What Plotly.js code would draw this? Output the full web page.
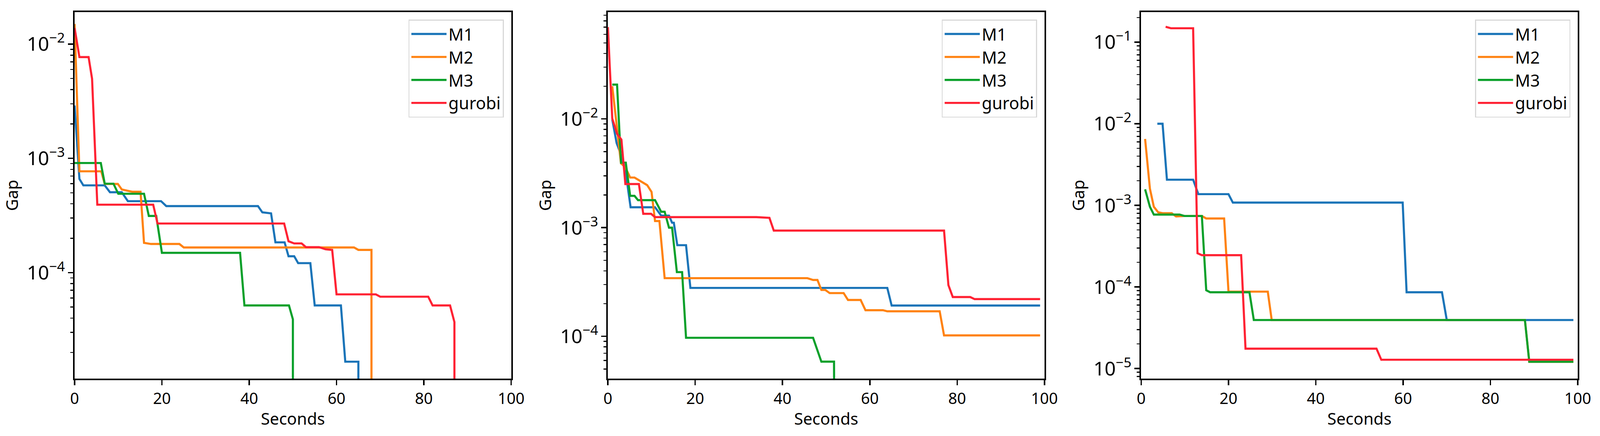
<!DOCTYPE html>
<html>
<head>
<meta charset="utf-8">
<script src="https://cdn.plot.ly/plotly-3.0.1.min.js"></script>
<style>html,body{margin:0;padding:0;background:#fff;overflow:hidden;}#chart{width:100vw;height:100vh;}</style>
</head>
<body>
<div id="chart"></div>
<script>
// ---------- data ----------
var seriesNames = ["M1", "M2", "M3", "gurobi"];
var xTicks = [0, 20, 40, 60, 80, 100];
var BELOW = 1e-7; // value under the visible range (line drops off the axis)

// Panel 1
var p1_M1_x = [0, 1.1, 2, 6.9, 8.1, 10.8, 12.2, 19.8, 21, 42, 43, 45, 46, 48.1, 49, 50.3, 51.2, 54, 55, 61, 62, 65, 65];
var p1_M1_y = [2.9e-3, 6.6e-4, 5.8e-4, 5.8e-4, 5.05e-4, 5.05e-4, 4.22e-4, 4.22e-4, 3.82e-4, 3.82e-4, 3.37e-4, 3.3e-4, 1.84e-4, 1.84e-4, 1.39e-4, 1.39e-4, 1.21e-4, 1.21e-4, 5.16e-5, 5.16e-5, 1.66e-5, 1.66e-5, BELOW];
var p1_M2_x = [0, 1.1, 6.1, 6.9, 9.9, 10.8, 12.2, 13.2, 15.1, 15.9, 17.5, 24, 25, 64, 65, 68, 68];
var p1_M2_y = [0.015, 7.7e-4, 7.7e-4, 5.97e-4, 5.97e-4, 5.34e-4, 5.2e-4, 5.1e-4, 5.1e-4, 1.82e-4, 1.78e-4, 1.78e-4, 1.66e-4, 1.66e-4, 1.58e-4, 1.58e-4, BELOW];
var p1_M3_x = [0, 6, 6.9, 8.9, 10, 15.9, 17, 18.7, 20, 37.9, 38.9, 49.1, 50, 50];
var p1_M3_y = [9.1e-4, 9.1e-4, 6.0e-4, 6.0e-4, 4.9e-4, 4.9e-4, 3.13e-4, 3.13e-4, 1.49e-4, 1.49e-4, 5.16e-5, 5.16e-5, 3.9e-5, BELOW];
var p1_G_x = [0, 1.1, 3.2, 4, 5.2, 18, 19, 48, 49, 50.3, 52, 53, 56, 57.5, 59, 60, 69, 70, 81, 82, 86, 87, 87];
var p1_G_y = [0.0138, 7.7e-3, 7.7e-3, 4.97e-3, 3.93e-4, 3.93e-4, 2.69e-4, 2.69e-4, 1.88e-4, 1.8e-4, 1.8e-4, 1.67e-4, 1.67e-4, 1.6e-4, 1.58e-4, 6.45e-5, 6.45e-5, 6.15e-5, 6.15e-5, 5.16e-5, 5.16e-5, 3.69e-5, BELOW];

// Panel 2
var p2_M1_x = [1, 2, 3, 4, 5.2, 10.8, 12.2, 14, 14.7, 15.1, 15.9, 17.9, 18.9, 64, 65, 99];
var p2_M1_y = [0.0099, 6e-3, 4.7e-3, 3.4e-3, 1.54e-3, 1.54e-3, 1.29e-3, 1.29e-3, 1.11e-3, 1.11e-3, 6.9e-4, 6.9e-4, 2.79e-4, 2.79e-4, 1.92e-4, 1.92e-4];
var p2_M2_x = [1, 2, 3, 4, 5.1, 6.1, 8.1, 9, 10, 10.8, 11.8, 13, 45.7, 47, 48, 48.9, 49.8, 50.8, 54, 55, 57.9, 59, 63, 64, 76, 77, 99];
var p2_M2_y = [0.02, 8.6e-3, 3.9e-3, 3.6e-3, 2.89e-3, 2.89e-3, 2.6e-3, 2.46e-3, 2.13e-3, 1.15e-3, 1.15e-3, 3.43e-4, 3.43e-4, 3.3e-4, 3.3e-4, 2.67e-4, 2.67e-4, 2.5e-4, 2.5e-4, 2.16e-4, 2.16e-4, 1.74e-4, 1.74e-4, 1.7e-4, 1.7e-4, 1.02e-4, 1.02e-4];
var p2_M3_x = [1, 2.1, 3, 4.1, 5.1, 6.1, 6.9, 10.8, 12.2, 13, 14, 14.7, 15.8, 17, 17.9, 47, 48.9, 51.8, 52];
var p2_M3_y = [0.0207, 0.0207, 3.96e-3, 3.96e-3, 1.96e-3, 1.96e-3, 1.79e-3, 1.79e-3, 1.4e-3, 1.4e-3, 1.0e-3, 1.0e-3, 3.9e-4, 3.9e-4, 9.7e-5, 9.7e-5, 5.85e-5, 5.85e-5, BELOW];
var p2_G_x = [0, 1, 2.1, 3.1, 4, 7.1, 8.1, 9.9, 10.8, 34, 37, 38, 77, 78, 79, 83, 84, 99];
var p2_G_y = [0.07, 0.0101, 7.3e-3, 6.45e-3, 2.52e-3, 2.52e-3, 1.34e-3, 1.34e-3, 1.25e-3, 1.25e-3, 1.23e-3, 9.4e-4, 9.4e-4, 2.96e-4, 2.3e-4, 2.3e-4, 2.2e-4, 2.2e-4];

// Panel 3
var p3_M1_x = [3.7, 4.9, 5.9, 11.9, 13.1, 20, 21, 59.9, 60.8, 68.9, 70, 99];
var p3_M1_y = [0.01, 0.01, 2.06e-3, 2.06e-3, 1.37e-3, 1.37e-3, 1.08e-3, 1.08e-3, 8.6e-5, 8.6e-5, 3.93e-5, 3.93e-5];
var p3_M2_x = [0.9, 2, 2.9, 3.9, 4.9, 7, 8, 9.9, 13.9, 14.9, 19, 20, 29, 29.9, 87.9, 88.9, 99];
var p3_M2_y = [6.5e-3, 1.6e-3, 9.6e-4, 8.2e-4, 8.0e-4, 8.0e-4, 7.3e-4, 7.4e-4, 7.4e-4, 6.9e-4, 6.9e-4, 8.75e-5, 8.75e-5, 3.93e-5, 3.93e-5, 1.21e-5, 1.21e-5];
var p3_M3_x = [0.9, 2, 2.9, 8.8, 9.9, 13.9, 14.9, 15.8, 24.8, 25.8, 87.9, 88.9, 99];
var p3_M3_y = [1.57e-3, 9.6e-4, 7.7e-4, 7.7e-4, 7.4e-4, 7.4e-4, 9.1e-5, 8.6e-5, 8.6e-5, 3.93e-5, 3.93e-5, 1.21e-5, 1.21e-5];
var p3_G_x = [5.6, 6.8, 11.9, 12.9, 13.9, 22.9, 23.9, 53.9, 55, 99];
var p3_G_y = [0.154, 0.148, 0.148, 2.59e-4, 2.45e-4, 2.45e-4, 1.75e-5, 1.75e-5, 1.28e-5, 1.28e-5];

// ---------- styling ----------
var colors = ["#1a74b8", "#ff8210", "#0aa02a", "#ff2233"];
var FONT = "Noto Sans, Open Sans, DejaVu Sans, sans-serif";

var panels = [
  {xs: [p1_M1_x, p1_M2_x, p1_M3_x, p1_G_x], ys: [p1_M1_y, p1_M2_y, p1_M3_y, p1_G_y], yrange: [-4.928, -1.72]},
  {xs: [p2_M1_x, p2_M2_x, p2_M3_x, p2_G_x], ys: [p2_M1_y, p2_M2_y, p2_M3_y, p2_G_y], yrange: [-4.389, -1.017]},
  {xs: [p3_M1_x, p3_M2_x, p3_M3_x, p3_G_x], ys: [p3_M1_y, p3_M2_y, p3_M3_y, p3_G_y], yrange: [-5.124, -0.632]}
];

// layout measured on the 4317 x 1117 reference, scaled to the actual window
var REF_W = 4317, REF_H = 1117;
var W = window.innerWidth || REF_W, H = window.innerHeight || REF_H;
var sx = W / REF_W, sy = H / REF_H;
var refL = 201, refR = 60, refT = 31, refB = 147;
var refPlotW = REF_W - refL - refR;       // 4056
var refAxW = 1178, refAxStep = 1439;
var refLegendRight = [1359, 2798, 4237];

var traces = [];
var layout = {
  width: W, height: H,
  margin: {l: refL * sx, r: refR * sx, t: refT * sy, b: refB * sy, pad: 0},
  paper_bgcolor: "#ffffff",
  plot_bgcolor: "#ffffff",
  font: {family: FONT, color: "#000000", size: 40},
  showlegend: true
};

panels.forEach(function (p, i) {
  var n = i + 1;
  var xa = "x" + (n === 1 ? "" : n), ya = "y" + (n === 1 ? "" : n);
  var legName = n === 1 ? "legend" : "legend" + n;
  for (var s = 0; s < 4; s++) {
    traces.push({
      type: "scatter", mode: "lines",
      x: p.xs[s], y: p.ys[s],
      name: seriesNames[s],
      xaxis: xa, yaxis: ya,
      legend: legName,
      line: {color: colors[s], width: 5.4},
      cliponaxis: true,
      hoverinfo: "x+y+name"
    });
  }
  var x0 = (i * refAxStep) / refPlotW, x1 = (i * refAxStep + refAxW) / refPlotW;
  var axKeyX = "xaxis" + (n === 1 ? "" : n), axKeyY = "yaxis" + (n === 1 ? "" : n);
  layout[axKeyX] = {
    domain: [x0, Math.min(1, x1)],
    anchor: ya,
    range: [0, 100],
    tickvals: xTicks,
    ticktext: xTicks.map(String),
    ticks: "outside", ticklen: 13, tickwidth: 3.5, tickcolor: "#000",
    showline: true, linecolor: "#000", linewidth: 4, mirror: true,
    showgrid: false, zeroline: false,
    tickfont: {size: 40, family: FONT, color: "#000"},
    title: {text: "Seconds", font: {size: 42, family: FONT, color: "#000"}, standoff: 14}
  };
  layout[axKeyY] = {
    domain: [0, 1],
    anchor: xa,
    type: "log",
    range: p.yrange,
    dtick: 1,
    exponentformat: "power",
    ticks: "outside", ticklen: 13, tickwidth: 3.5, tickcolor: "#000",
    minor: {ticks: "outside", ticklen: 7, tickwidth: 2.5, tickcolor: "#000", dtick: "D1", showgrid: false},
    showline: true, linecolor: "#000", linewidth: 4, mirror: true,
    showgrid: false, zeroline: false,
    tickfont: {size: 40, family: FONT, color: "#000"},
    title: {text: "Gap", font: {size: 42, family: FONT, color: "#000"}, standoff: 10}
  };
  layout[legName] = {
    x: (refLegendRight[i] - refL) / refPlotW,
    y: 1 - (50 - refT) / (REF_H - refT - refB),
    xanchor: "right", yanchor: "top",
    bgcolor: "rgba(255,255,255,0.85)",
    bordercolor: "#d8d8d8", borderwidth: 2.5,
    font: {size: 43, family: FONT, color: "#000"},
    itemwidth: 90,
    tracegroupgap: 0
  };
});

Plotly.newPlot("chart", traces, layout, {displayModeBar: false, staticPlot: true});
</script>
</body>
</html>
